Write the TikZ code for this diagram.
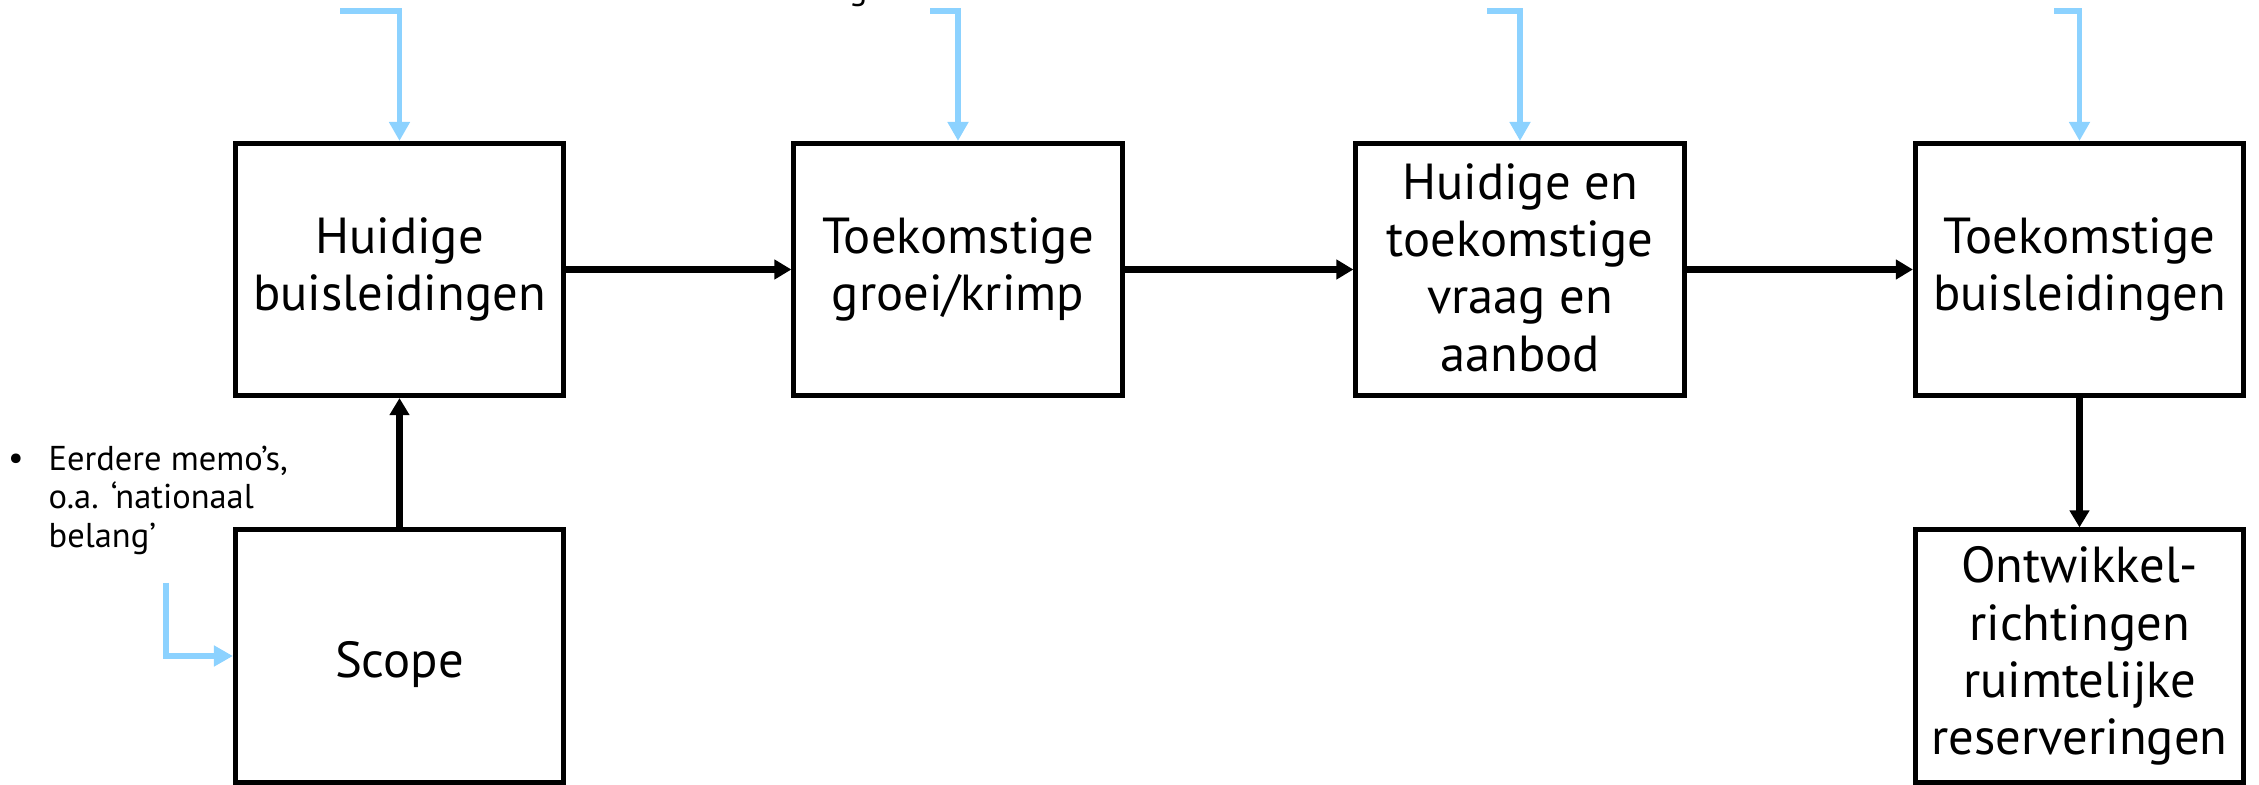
\documentclass[tikz,border=0pt]{standalone}
\usepackage{fontspec}
\setmainfont{PT Sans}
\usetikzlibrary{arrows.meta}
\definecolor{lblue}{RGB}{140,210,255}
\newcommand\bstrut{\rule[-1.3pt]{0pt}{16.3pt}}
\begin{document}
\begin{tikzpicture}[x=0.01cm,y=-0.01cm,
  blk/.style={draw, line width=1.42pt, minimum width=3.28cm, minimum height=2.52cm,
    align=center, inner sep=0pt, font=\fontsize{14.4}{16.3}\selectfont,
    execute at begin node=\bstrut, execute at end node=\bstrut},
  barrow/.style={line width=1.75pt, -{Triangle[length=0.17cm,width=0.19cm]}},
  larrow/.style={draw=lblue, line width=1.6pt, -{Triangle[length=0.19cm,width=0.2cm]}},
  small/.style={font=\fontsize{9.8}{11}\selectfont, inner sep=0pt}
]
\useasboundingbox (0,0) rectangle (2259,785);
\node[blk] (hb) at (399.5,269.5) {Huidige\\buisleidingen};
\node[blk] (tg) at (958,269.5) {Toekomstige\\groei/krimp};
\node[blk] (hv) at (1520,269.5) {Huidige en\\toekomstige\\vraag en\\aanbod};
\node[blk] (tb) at (2079.5,269.5) {Toekomstige\\buisleidingen};
\node[blk] (sc) at (399.5,656) {Scope};
\node[blk] (ow) at (2079.5,656) {Ontwikkel-\\richtingen\\ruimtelijke\\reserveringen};

\draw[barrow] (hb.east) -- (tg.west);
\draw[barrow] (tg.east) -- (hv.west);
\draw[barrow] (hv.east) -- (tb.west);
\draw[barrow] (sc.north) -- (hb.south);
\draw[barrow] (tb.south) -- (ow.north);

\coordinate (s1) at (340,11);
\coordinate (s2) at (930,11);
\coordinate (s3) at (1487,11);
\coordinate (s4) at (2054,11);
\coordinate (s5) at (166,583);
\draw[larrow] (s1) -| (hb.north);
\draw[larrow] (s2) -| (tg.north);
\draw[larrow] (s3) -| (hv.north);
\draw[larrow] (s4) -| (tb.north);
\draw[larrow] (s5) |- (sc.west);

\node[small] (bul) at (16,462) {•};
\node[small, align=left, anchor=north west] (memo) at (48,445) {Eerdere memo’s,\\o.a. ‘nationaal\\belang’};
\node[small, anchor=base] (frag) at (858,0) {g};
\end{tikzpicture}
\end{document}
